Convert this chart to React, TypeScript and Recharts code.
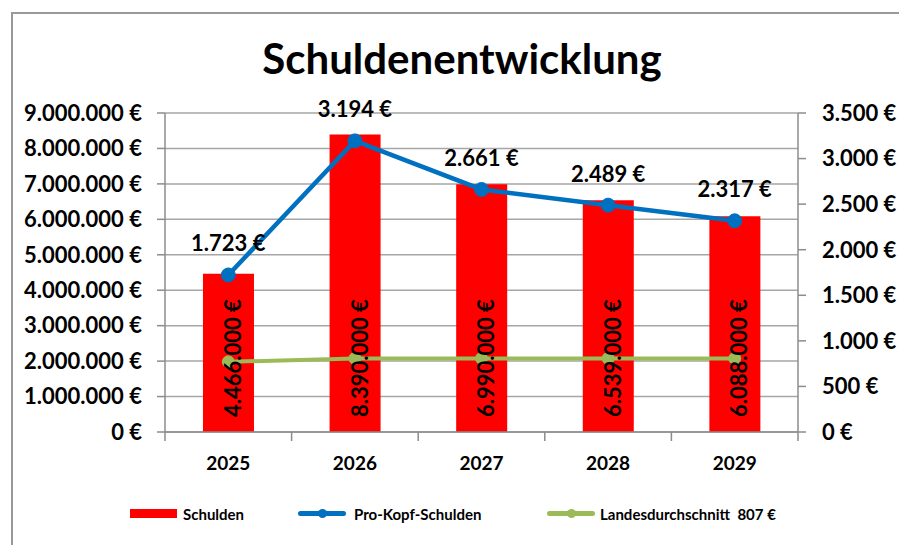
import {
  ComposedChart,
  Bar,
  Line,
  XAxis,
  YAxis,
  CartesianGrid,
  LabelList,
} from "recharts";

const years = ["2025", "2026", "2027", "2028", "2029"];
const schulden = [4466000, 8390000, 6990000, 6539000, 6088000];
const proKopf = [1723, 3194, 2661, 2489, 2317];
const landesschnitt = [770, 807, 807, 807, 807];
const leftTicks = [0, 1000000, 2000000, 3000000, 4000000, 5000000, 6000000, 7000000, 8000000, 9000000];
const rightTicks = [0, 500, 1000, 1500, 2000, 2500, 3000, 3500];

const data = years.map((year, i) => ({
  year,
  schulden: schulden[i],
  proKopf: proKopf[i],
  landes: landesschnitt[i],
}));

const FONT = "Lato, 'Noto Sans', sans-serif";
const AXIS = "#8c8c8c";
const GRID = "#a6a6a6";

const euro = (v: number) =>
  String(Math.round(v)).replace(/\B(?=(\d{3})+(?!\d))/g, ".") + " €";

const BAND = 633 / 5;

function XTick(props: any) {
  const { x, y, payload } = props;
  return (
    <g>
      <line x1={x + BAND / 2} y1={y - 8} x2={x + BAND / 2} y2={y + 1} stroke={AXIS} strokeWidth={1.5} />
      {payload.index === 0 && (
        <line x1={x - BAND / 2} y1={y - 8} x2={x - BAND / 2} y2={y + 1} stroke={AXIS} strokeWidth={1.5} />
      )}
      <text
        x={x}
        y={y + 22}
        textAnchor="middle"
        dominantBaseline="central"
        fontFamily={FONT}
        fontWeight={700}
        fontSize={19}
        fill="#000"
      >
        {payload.value}
      </text>
    </g>
  );
}

function BarValue(props: any) {
  const { x, y, width, height, value } = props;
  const cx = x + width / 2 + 4;
  const by = y + height - 15;
  return (
    <text
      x={cx}
      y={by}
      transform={`rotate(-90 ${cx} ${by})`}
      textAnchor="start"
      dominantBaseline="central"
      fontFamily={FONT}
      fontWeight={700}
      fontSize={22}
      fill="#000"
    >
      {euro(value)}
    </text>
  );
}

function LineValue(props: any) {
  const { x, y, value } = props;
  return (
    <text
      x={x}
      y={y - 32}
      textAnchor="middle"
      dominantBaseline="central"
      fontFamily={FONT}
      fontWeight={700}
      fontSize={22}
      fill="#000"
    >
      {euro(value)}
    </text>
  );
}

const tickStyle = { fontFamily: FONT, fontWeight: 700, fontSize: 22, fill: "#000" };

export default function App() {
  return (
    <div style={{ position: "absolute", left: 0, top: 0, width: 899, height: 545, overflow: "hidden", background: "#fff" }}>
      <div
        style={{
          position: "absolute",
          left: 11,
          top: 12,
          width: 900,
          height: 560,
          borderLeft: "2px solid #999",
          borderTop: "2px solid #999",
        }}
      />
      <div
        style={{
          position: "absolute",
          left: 0,
          width: 924,
          top: 33,
          textAlign: "center",
          fontFamily: FONT,
          fontWeight: 700,
          fontSize: 42,
          lineHeight: "50px",
          color: "#000",
        }}
      >
        Schuldenentwicklung
      </div>
      <ComposedChart
        width={899}
        height={545}
        data={data}
        margin={{ top: 113, right: 0, bottom: 83, left: 0 }}
        barCategoryGap="30%"
        style={{ position: "absolute", left: 0, top: 0 }}
      >
        <CartesianGrid yAxisId="left" vertical={false} stroke={GRID} strokeWidth={1.5} />
        <XAxis
          dataKey="year"
          height={30}
          axisLine={{ stroke: AXIS, strokeWidth: 1.5 }}
          tickLine={false}
          tick={<XTick />}
          interval={0}
        />
        <YAxis
          yAxisId="left"
          width={165}
          domain={[0, 9000000]}
          ticks={leftTicks}
          tickFormatter={euro}
          tick={tickStyle}
          tickSize={8}
          tickMargin={15}
          axisLine={{ stroke: AXIS, strokeWidth: 1.5 }}
          tickLine={{ stroke: AXIS, strokeWidth: 1.5 }}
          interval={0}
        />
        <YAxis
          yAxisId="right"
          orientation="right"
          width={101}
          domain={[0, 3500]}
          ticks={rightTicks}
          tickFormatter={euro}
          tick={{ ...tickStyle, textAnchor: "start" }}
          tickSize={8}
          tickMargin={16}
          axisLine={{ stroke: AXIS, strokeWidth: 1.5 }}
          tickLine={{ stroke: AXIS, strokeWidth: 1.5 }}
          interval={0}
        />
        <Bar yAxisId="left" dataKey="schulden" fill="#ff0000" isAnimationActive={false}>
          <LabelList dataKey="schulden" content={<BarValue />} />
        </Bar>
        <Line
          yAxisId="right"
          dataKey="landes"
          stroke="#9bbb59"
          strokeWidth={4}
          dot={{ r: 6, fill: "#9bbb59", stroke: "#9bbb59", strokeWidth: 1 }}
          isAnimationActive={false}
        />
        <Line
          yAxisId="right"
          dataKey="proKopf"
          stroke="#0070c0"
          strokeWidth={4.5}
          dot={{ r: 7, fill: "#0070c0", stroke: "#0070c0", strokeWidth: 1 }}
          isAnimationActive={false}
        >
          <LabelList dataKey="proKopf" content={<LineValue />} />
        </Line>
      </ComposedChart>
      <div
        style={{
          position: "absolute",
          top: 503,
          left: 0,
          height: 22,
          width: 899,
          fontFamily: FONT,
          fontWeight: 700,
          fontSize: 15,
          color: "#000",
        }}
      >
        <div style={{ position: "absolute", left: 130, top: 6, width: 47, height: 9, background: "#ff0000" }} />
        <div style={{ position: "absolute", left: 183, top: 0, lineHeight: "22px" }}>Schulden</div>
        <div style={{ position: "absolute", left: 298, top: 8, width: 48, height: 5, borderRadius: 3, background: "#0070c0" }} />
        <div style={{ position: "absolute", left: 318, top: 6, width: 9, height: 9, borderRadius: 5, background: "#0070c0" }} />
        <div style={{ position: "absolute", left: 354, top: 0, lineHeight: "22px" }}>Pro-Kopf-Schulden</div>
        <div style={{ position: "absolute", left: 547, top: 8, width: 48, height: 5, borderRadius: 3, background: "#9bbb59" }} />
        <div style={{ position: "absolute", left: 567, top: 6, width: 9, height: 9, borderRadius: 5, background: "#9bbb59" }} />
        <div style={{ position: "absolute", left: 600, top: 0, lineHeight: "22px", whiteSpace: "pre" }}>Landesdurchschnitt  807 €</div>
      </div>
    </div>
  );
}
